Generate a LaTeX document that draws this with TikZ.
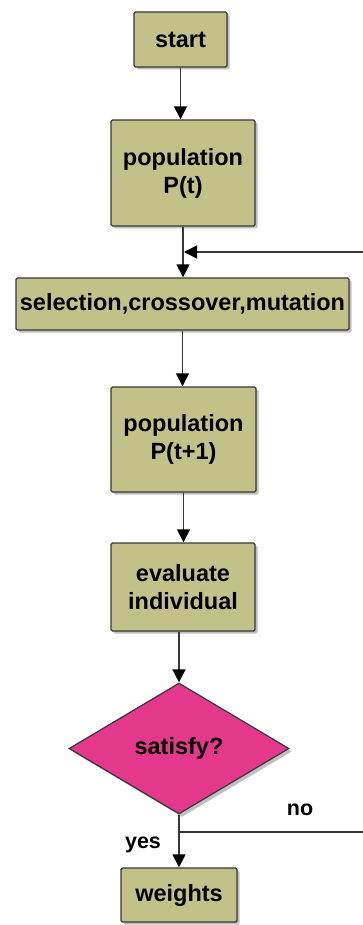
\documentclass[tikz,border=0pt]{standalone}
\usepackage{fontspec}
\setmainfont{Liberation Sans}
\usetikzlibrary{arrows.meta,shapes.geometric,shadows,calc}
\definecolor{boxfill}{RGB}{194,194,136}
\definecolor{diafill}{RGB}{228,56,140}
\definecolor{linec}{RGB}{55,55,55}
\begin{document}
\begin{tikzpicture}[x=1pt,y=-1pt,
  every node/.style={font=\fontsize{23.5}{28}\selectfont\bfseries},
  procbox/.style={draw=linec,line width=1.4pt,fill=boxfill,rounded corners=1.5pt,
    align=center,inner sep=0pt,
    drop shadow={shadow xshift=2.5pt,shadow yshift=-2.5pt,opacity=0.25,fill=black}},
  decbox/.style={diamond,draw=linec,line width=1.2pt,fill=diafill,inner sep=0pt,
    minimum width=220pt,minimum height=131pt,
    drop shadow={shadow xshift=3pt,shadow yshift=-3pt,opacity=0.25,fill=black}},
  arr/.style={draw=linec,line width=1.5pt,-{Triangle[length=13pt,width=13pt,color=black]}},
  ln/.style={draw=linec,line width=1.5pt},
  lbl/.style={font=\fontsize{21.5}{24}\selectfont\bfseries}]
\useasboundingbox (0,0) rectangle (363,925);
\node[procbox,minimum width=93pt,minimum height=55pt] (start) at (180.5,39.5) {start};
\node[procbox,minimum width=144pt,minimum height=106pt] (popt) at (183,173) {population\\P(t)};
\node[procbox,minimum width=333pt,minimum height=52pt] (sel) at (182.5,304) {selection,crossover,mutation};
\node[procbox,minimum width=145pt,minimum height=105pt] (popt1) at (183.5,439.5) {population\\P(t+1)};
\node[procbox,minimum width=144pt,minimum height=88pt] (eval) at (183,587) {evaluate\\individual};
\node[decbox] (sat) at (179,748.5) {satisfy?};
\node[procbox,minimum width=116pt,minimum height=54pt] (w) at (179,895) {weights};

\draw[arr] (start.south) -- (start.south |- popt.north);
\draw[arr] (popt.south) -- (popt.south |- sel.north);
\draw[arr] (sel.south) -- (sel.south |- popt1.north);
\draw[arr] (popt1.south) -- (popt1.south |- eval.north);
\draw[arr] (eval.south -| sat.north) -- (sat.north);
\draw[arr] (sat.south) -- (sat.south |- w.north);

\coordinate (fbR) at (366,252);
\coordinate (fbJ) at (popt.south |- fbR);
\draw[arr] (fbR) -- ($(fbJ)+(1,0)$);

\coordinate (noR) at (366,832);
\coordinate (noJ) at (sat.south |- noR);
\draw[ln] (noJ) -- (noR);
\node[lbl] (no) at (300,810) {no};
\node[lbl] (yes) at (143,845) {yes};
\end{tikzpicture}
\end{document}
